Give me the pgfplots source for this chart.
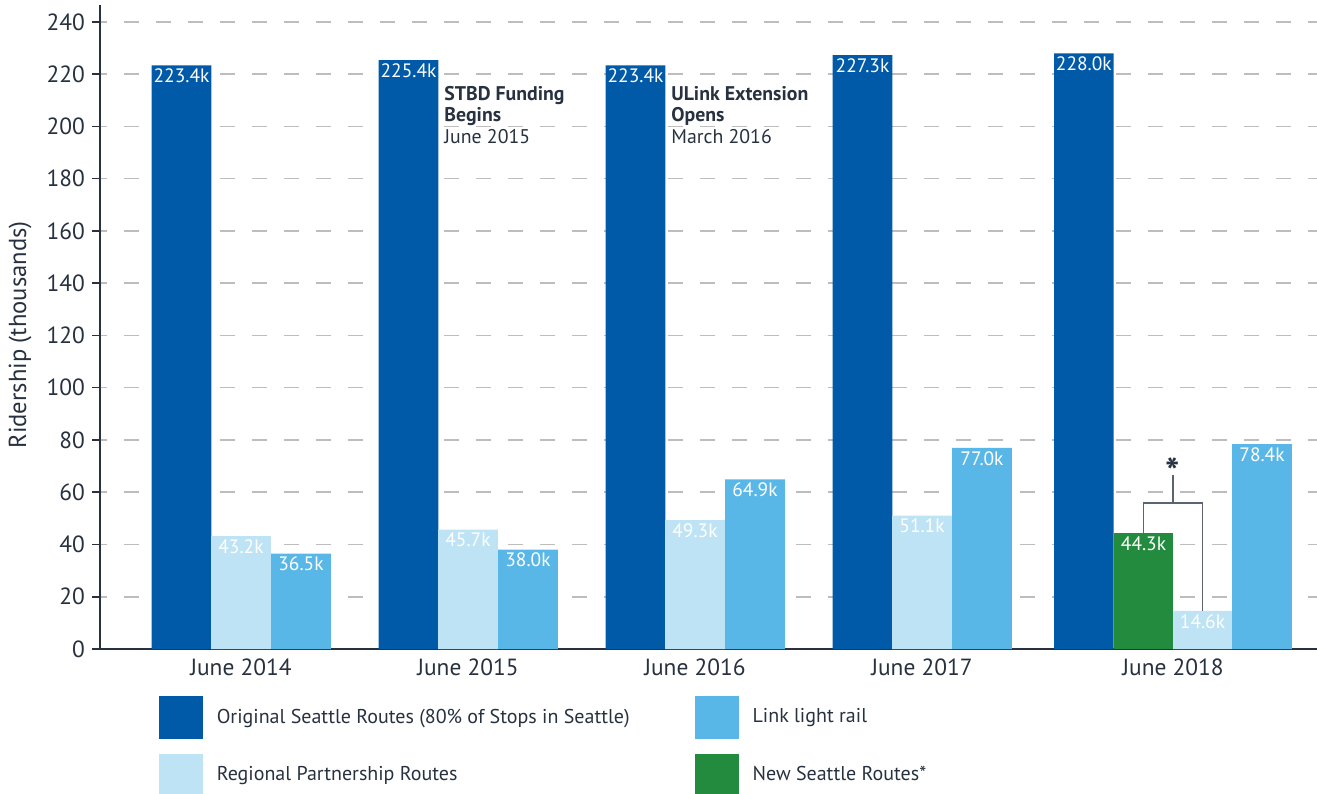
\documentclass[border=0pt]{standalone}
\usepackage{fontspec}
\setmainfont{PT Sans}
\usepackage{pgfplots}
\pgfplotsset{compat=1.18}
\definecolor{orig}{HTML}{005AA8}
\definecolor{regl}{HTML}{BEE3F5}
\definecolor{link}{HTML}{59B7E8}
\definecolor{newr}{HTML}{238B3E}
\definecolor{txt}{HTML}{27313F}
\definecolor{gridc}{HTML}{BDBDBD}
\definecolor{brk}{HTML}{5A6472}
\newcommand{\tickfont}{\fontsize{11.7}{14}\selectfont}
\newcommand{\valfont}{\fontsize{9.7}{11}\selectfont}
\newcommand{\legfont}{\fontsize{10}{12}\selectfont}
\newcommand{\annfont}{\fontsize{9.9}{10.8}\selectfont}
\begin{document}
\begin{tikzpicture}
\useasboundingbox (-50pt,-72pt) rectangle (608.5pt,324.5pt);
\begin{axis}[
  scale only axis, width=608.5pt, height=322pt,
  xmin=100, xmax=1317, ymin=0, ymax=246.5,
  axis lines*=left,
  x axis line style={line width=1pt, txt},
  y axis line style={line width=0.75pt, txt},
  /pgf/number format/assume math mode=true,
  ytick={0,20,...,240},
  ymajorgrids,
  grid style={gridc, line width=0.75pt, dash pattern=on 7.5pt off 8.5pt, dash phase=4pt},
  tick align=outside, major tick length=4pt,
  ytick style={txt, line width=0.75pt},
  xtick style={draw=none},
  xtick={241,468,695,922,1173},
  xticklabels={June 2014,June 2015,June 2016,June 2017,June 2018},
  ticklabel style={font=\tickfont, text=txt},
  xticklabel style={yshift=2.5pt},
  ylabel={Ridership (thousands)},
  ylabel style={font=\fontsize{12.3}{14}\selectfont, text=txt, at={(axis description cs:-0.0657,0.4876)}, anchor=center},
  legend columns=2,
  legend cell align=left,
  legend style={draw=none, fill=none, at={(axis description cs:0.0485,-0.073)}, anchor=north west,
    inner sep=0pt, outer sep=0pt, font=\legfont, text=txt, row sep=7.5pt,
    nodes={inner sep=0pt},
    /tikz/every odd column/.append style={column sep=7pt},
    /tikz/every even column/.append style={column sep=0pt}},
]
\addlegendimage{legend image code/.code={\fill[orig] (0pt,-10.5pt) rectangle (21.5pt,10.5pt);}}
\addlegendentry{\makebox[239pt][l]{Original Seattle Routes (80\% of Stops in Seattle)}}
\addlegendimage{legend image code/.code={\fill[link] (0pt,-10.5pt) rectangle (21.5pt,10.5pt);}}
\addlegendentry{Link light rail}
\addlegendimage{legend image code/.code={\fill[regl] (0pt,-10.5pt) rectangle (21.5pt,10.5pt);}}
\addlegendentry{\makebox[239pt][l]{Regional Partnership Routes}}
\addlegendimage{legend image code/.code={\fill[newr] (0pt,-10.5pt) rectangle (21.5pt,10.5pt);}}
\addlegendentry{New Seattle Routes*}

\pgfplotsset{barlab/.style={nodes near coords={\pgfmathprintnumber[fixed,fixed zerofill,precision=1]{\pgfplotspointmeta}k},
  point meta=y,
  every node near coord/.append style={white, font=\valfont, anchor=north, inner sep=1.5pt}}}

% Original Seattle Routes
\addplot[ybar, bar width=59.6, bar shift=0pt, fill=orig, draw=none, barlab, forget plot]
  coordinates {(181.5,223.4) (408.5,225.4) (635.5,223.4) (862.5,227.3) (1083.8,228.0)};
% Regional Partnership Routes
\addplot[ybar, bar width=59.6, bar shift=0pt, fill=regl, draw=none, barlab, forget plot]
  coordinates {(241,43.2) (468,45.7) (695,49.3) (922,51.1) (1202.5,14.6)};
% Link light rail
\addplot[ybar, bar width=59.6, bar shift=0pt, fill=link, draw=none, barlab, forget plot]
  coordinates {(301,36.5) (528,38.0) (755,64.9) (982,77.0) (1262,78.4)};
% New Seattle Routes
\addplot[ybar, bar width=59.6, bar shift=0pt, fill=newr, draw=none, barlab, forget plot]
  coordinates {(1143.5,44.3)};

% bracket
\addplot[brk, line width=0.6pt, sharp plot, mark=none, forget plot]
  coordinates {(1143.5,44.3) (1143.5,55.9) (1202.5,55.9) (1202.5,14.6)};
\addplot[brk, line width=0.6pt, sharp plot, mark=none, forget plot]
  coordinates {(1173,55.9) (1173,66.6)};
\node[text=txt, font=\bfseries\fontsize{19}{19}\selectfont, inner sep=0pt, anchor=base] at (axis cs:1172.5,62.5) {*};

\node[anchor=north west, inner sep=0pt, align=left, text=txt, font=\annfont] at (axis cs:444,215.6)
  {\textbf{STBD Funding}\\\textbf{Begins}\\June 2015};
\node[anchor=north west, inner sep=0pt, align=left, text=txt, font=\annfont] at (axis cs:671,215.6)
  {\textbf{ULink Extension}\\\textbf{Opens}\\March 2016};
\end{axis}
\end{tikzpicture}
\end{document}
